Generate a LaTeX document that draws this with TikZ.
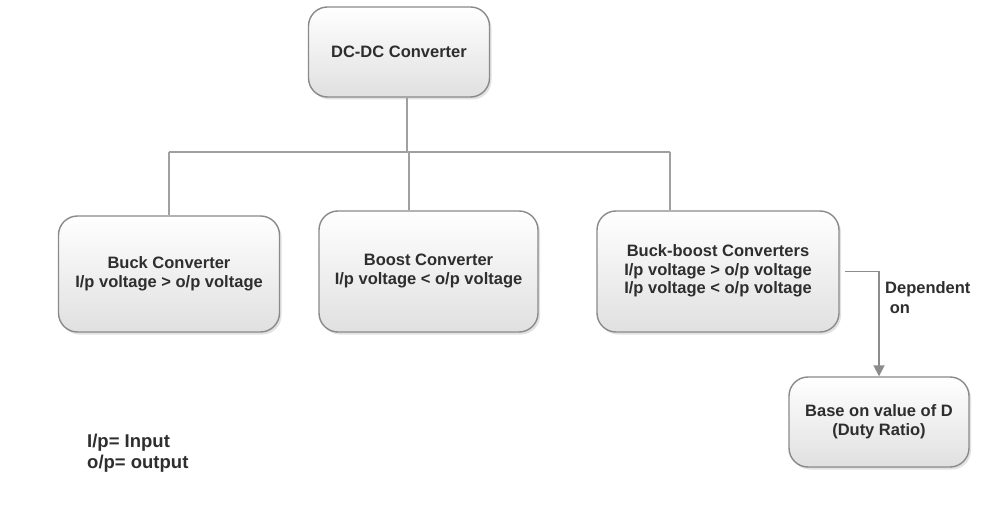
\documentclass[tikz,border=0pt]{standalone}
\usepackage{fontspec}
\setmainfont{Liberation Sans}
\usetikzlibrary{shadows,arrows.meta}
\definecolor{txt}{HTML}{2E2E2E}
\definecolor{boxline}{HTML}{8A8A8A}
\definecolor{boxbot}{HTML}{E0E0E0}
\definecolor{conncol}{HTML}{A0A0A0}
\definecolor{arrcol}{HTML}{8C8C8C}
\tikzset{
  boxnode/.style={draw=boxline, line width=1.4bp, rounded corners=19bp,
    top color=white, bottom color=boxbot, inner sep=0pt, align=center,
    text=txt, font=\fontsize{16.5bp}{18.5bp}\selectfont\bfseries,
    execute at begin node={\rule{0pt}{16bp}},
    execute at end node={\rule[-4.2bp]{0pt}{4.2bp}},
    drop shadow={shadow xshift=2bp, shadow yshift=-2.5bp, fill=black!14, opacity=0.8}},
  conn/.style={draw=conncol, line width=1.8bp},
  arrline/.style={draw=arrcol, line width=1.8bp, -{Triangle[length=11bp,width=11bp]}},
  plain/.style={text=txt, font=\fontsize{16.5bp}{20bp}\selectfont\bfseries, inner sep=0pt, align=left},
  legendtext/.style={plain, font=\fontsize{18.5bp}{20.5bp}\selectfont\bfseries}
}
\begin{document}
\begin{tikzpicture}[x=1bp,y=-1bp]
\useasboundingbox[fill=white] (0,0) rectangle (1005,505);
\node[boxnode, minimum width=181bp, minimum height=90bp] (top) at (399,52) {DC-DC Converter};
\node[boxnode, minimum width=221bp, minimum height=116bp] (buck) at (169,274) {Buck Converter\\I/p voltage > o/p voltage};
\node[boxnode, minimum width=219bp, minimum height=121bp] (boost) at (428.5,271.5) {Boost Converter\\I/p voltage < o/p voltage};
\node[boxnode, minimum width=242bp, minimum height=121bp] (bb) at (718,271.5) {Buck-boost Converters\\I/p voltage > o/p voltage\\I/p voltage < o/p voltage};
\node[boxnode, minimum width=180bp, minimum height=90bp] (dbox) at (879,422) {Base on value of D\\(Duty Ratio)};
\coordinate (j0) at (407,152);
\coordinate (jl) at (169,152);
\coordinate (jm) at (409,152);
\coordinate (jr) at (670,152);
\draw[conn] (top.south -| j0) -- (j0);
\draw[conn] (jl) -- (jr);
\draw[conn] (jl) -- (buck.north -| jl);
\draw[conn] (jm) -- (boost.north -| jm);
\draw[conn] (jr) -- (bb.north -| jr);
\draw[arrline] ([xshift=5bp]bb.east) -| (dbox.north);
\node[plain, anchor=north west] (dep) at (885,281.5) {Dependent\\\hspace*{4.6bp}on};
\node[legendtext, anchor=north west] (legend) at (87,434) {I/p= Input\\o/p= output};
\end{tikzpicture}
\end{document}
